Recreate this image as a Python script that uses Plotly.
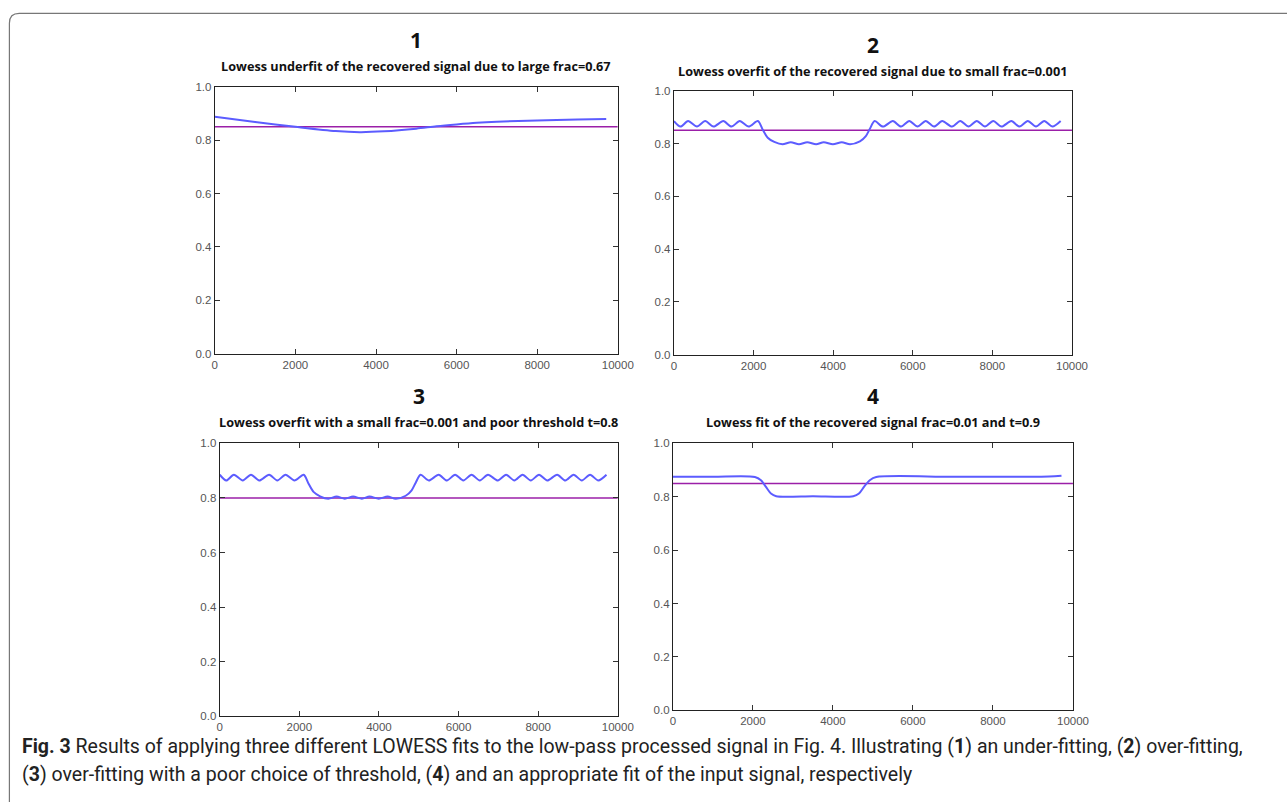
import plotly.graph_objects as go

W, H = 1287, 802

# ---------------- data ----------------
x_ticks = [0, 2000, 4000, 6000, 8000, 10000]
y_ticks = [0.0, 0.2, 0.4, 0.6, 0.8, 1.0]
y_tick_labels = ["0.0", "0.2", "0.4", "0.6", "0.8", "1.0"]

p1_x = [0, 1000, 2000, 3000, 3600, 4200, 5000, 5500, 6000, 6500, 7000, 8000, 9000, 9713]
p1_y = [0.888, 0.868, 0.850, 0.834, 0.830, 0.833, 0.843, 0.852, 0.859, 0.865, 0.869, 0.874, 0.877, 0.879]

p2_x = [0, 165, 355, 578, 785, 992, 1240, 1446, 1653, 1876, 2108,
        2232, 2356, 2521,
        2728, 2935, 3142, 3349, 3572, 3762, 3994, 4217, 4424,
        4672, 4821, 4920,
        5044, 5251, 5499, 5706, 5912, 6119, 6326, 6533, 6739, 6987, 7194,
        7401, 7608, 7814, 8021, 8228, 8476, 8683, 8890, 9096, 9303, 9510, 9716]
p2_y = [0.885, 0.864, 0.885, 0.864, 0.885, 0.864, 0.885, 0.864, 0.885, 0.864, 0.885,
        0.852, 0.822, 0.806,
        0.797, 0.805, 0.797, 0.805, 0.797, 0.805, 0.797, 0.805, 0.797,
        0.808, 0.828, 0.855,
        0.885, 0.864, 0.885, 0.864, 0.885, 0.864, 0.885, 0.864, 0.885, 0.864, 0.885,
        0.864, 0.885, 0.864, 0.885, 0.864, 0.885, 0.864, 0.885, 0.864, 0.885, 0.864, 0.885]

p4_x = [0, 1000, 2049, 2200, 2320, 2450, 2582, 3500, 4508, 4650, 4780, 4920, 5082, 7000, 9400, 9713]
p4_y = [0.875, 0.875, 0.874, 0.862, 0.838, 0.812, 0.802, 0.802, 0.802, 0.812, 0.838, 0.862, 0.874, 0.875, 0.876, 0.879]

thresholds = [0.85, 0.85, 0.80, 0.85]
panel_numbers = ["1", "2", "3", "4"]
panel_titles = [
    "Lowess underfit of the recovered signal due to large frac=0.67",
    "Lowess overfit of the recovered signal due to small frac=0.001",
    "Lowess overfit with a small frac=0.001 and poor threshold t=0.8",
    "Lowess fit of the recovered signal frac=0.01 and t=0.9",
]
caption_1 = ("<b>Fig. 3</b> Results of applying three different LOWESS fits to the low-pass processed signal in Fig. 4. "
             "Illustrating (<b>1</b>) an under-fitting, (<b>2</b>) over-fitting,")
caption_2 = "(<b>3</b>) over-fitting with a poor choice of threshold, (<b>4</b>) and an appropriate fit of the input signal, respectively"

boxes = [  # x0, x1, ytop, ybottom
    (215, 624, 82, 353),
    (681, 1085, 86, 354),
    (220, 624, 444, 721),
    (680, 1086, 444, 715),
]
num_y = [35, 40, 396, 396]
title_y = [61, 66, 422, 422]

curves = [(p1_x, p1_y), (p2_x, p2_y), (p2_x, p2_y), (p4_x, p4_y)]

BLUE = "#5c5cff"
PURPLE = "#9b1fa8"

fig = go.Figure()
layout = dict(
    width=W, height=H, margin=dict(l=0, r=0, t=0, b=0),
    paper_bgcolor="white", plot_bgcolor="white", showlegend=False,
)
annotations = []
shapes = []

def px(x):
    return x / W

def py(y):
    return 1 - y / H

for i in range(4):
    n = i + 1
    xa = "x" if n == 1 else f"x{n}"
    ya = "y" if n == 1 else f"y{n}"
    x0, x1, yt, yb = boxes[i]
    cx, cy = curves[i]
    fig.add_trace(go.Scatter(x=[0, 10000], y=[thresholds[i], thresholds[i]], mode="lines",
                             line=dict(color=PURPLE, width=1.5), xaxis=xa, yaxis=ya, hoverinfo="skip"))
    fig.add_trace(go.Scatter(x=cx, y=cy, mode="lines",
                             line=dict(color=BLUE, width=2, shape="spline", smoothing=0.8),
                             xaxis=xa, yaxis=ya))
    axcommon = dict(showgrid=False, zeroline=False, showline=True, linecolor="#222", linewidth=1.2,
                    mirror="ticks", ticks="inside", ticklen=5, tickcolor="#333",
                    tickfont=dict(family="Liberation Sans, Arial, sans-serif", size=11.5, color="#555"))
    layout["xaxis" if n == 1 else f"xaxis{n}"] = dict(
        domain=[px(x0), px(x1)], range=[0, 10000], anchor=ya,
        tickvals=x_ticks, ticktext=[str(t) for t in x_ticks], **axcommon)
    layout["yaxis" if n == 1 else f"yaxis{n}"] = dict(
        domain=[py(yb), py(yt)], range=[0, 1], anchor=xa,
        tickvals=y_ticks, ticktext=y_tick_labels, **axcommon)
    cxm = (x0 + x1) / 2
    annotations.append(dict(text=f"<b>{panel_numbers[i]}</b>", x=px(cxm), y=py(num_y[i]), xref="paper", yref="paper",
                            showarrow=False, xanchor="center", yanchor="middle",
                            font=dict(family="Open Sans, Noto Sans, sans-serif", size=21, color="#111")))
    annotations.append(dict(text=f"<b>{panel_titles[i]}</b>", x=px(cxm), y=py(title_y[i]), xref="paper", yref="paper",
                            showarrow=False, xanchor="center", yanchor="middle",
                            font=dict(family="Open Sans, Noto Sans, sans-serif", size=12.7, color="#111")))

annotations.append(dict(text=caption_1, x=px(17), y=py(752), xref="paper", yref="paper", showarrow=False,
                        xanchor="left", yanchor="middle",
                        font=dict(family="Roboto, sans-serif", size=19.5, color="#222")))
annotations.append(dict(text=caption_2, x=px(17), y=py(780), xref="paper", yref="paper", showarrow=False,
                        xanchor="left", yanchor="middle",
                        font=dict(family="Roboto, sans-serif", size=19.5, color="#222")))

bx, by, r = 6.5, 7.5, 10
path = (f"M {px(bx)},{py(H + 20)} L {px(bx)},{py(by + r)} "
        f"Q {px(bx)},{py(by)} {px(bx + r)},{py(by)} L {px(W + 20)},{py(by)}")
shapes.append(dict(type="path", path=path, xref="paper", yref="paper",
                   line=dict(color="#777", width=1.2)))

layout["annotations"] = annotations
layout["shapes"] = shapes
fig.update_layout(**layout)
fig.write_html("out.html", config={"displayModeBar": False},
               post_script="document.body.style.margin='0';document.body.style.overflow='hidden';")
